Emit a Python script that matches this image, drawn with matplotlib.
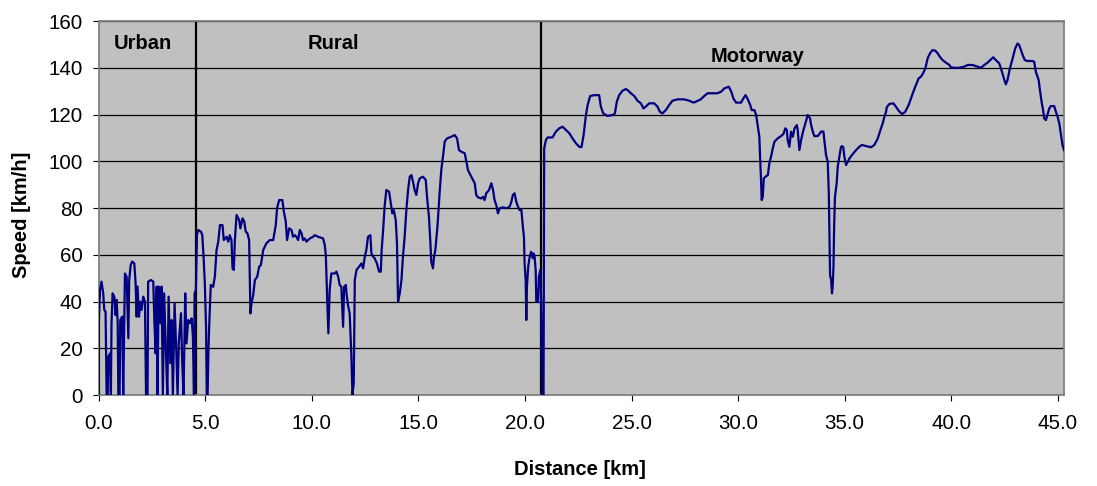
import numpy as np
import matplotlib
matplotlib.use("Agg")
import matplotlib.pyplot as plt

plt.rcParams['font.family'] = ['Liberation Sans', 'DejaVu Sans']

# speed trace, split by road type (distance in km, speed in km/h)
urban_km = [0.00, 0.00, 0.05, 0.12, 0.20, 0.25, 0.31, 0.36, 0.41, 0.44, 0.52, 0.56,
            0.59, 0.64, 0.72, 0.78, 0.83, 0.88, 0.91, 0.97, 1.00, 1.09, 1.14, 1.19,
            1.22, 1.30, 1.38, 1.42, 1.49, 1.56, 1.66, 1.72, 1.77, 1.81, 1.88, 1.94,
            2.00, 2.08, 2.16, 2.21, 2.28, 2.31, 2.44, 2.55, 2.60, 2.66, 2.71, 2.75,
            2.80, 2.88, 2.94, 3.00, 3.06, 3.14, 3.21, 3.27, 3.35, 3.41, 3.47, 3.55,
            3.63, 3.69, 3.75, 3.85, 3.91, 3.97, 4.05, 4.11, 4.19, 4.27, 4.35, 4.41,
            4.46, 4.49]
urban_speed = [0, 32, 45, 48.5, 43.5, 36.4, 35.7, 0, 0, 16.4, 17.8, 0,
               30.7, 43.5, 42.1, 34.2, 40.7, 30.7, 0, 0, 32.1, 33.5, 0, 32.1,
               52, 50.6, 24.3, 49.2, 55.6, 57.1, 56.3, 47.8, 33.5, 46.4, 33.5, 39.9,
               36.4, 42.1, 39.9, 0, 0, 48.5, 49.2, 48.5, 32.1, 17.8, 46.4, 0,
               46.4, 30.7, 46.4, 0, 43.5, 19.3, 0, 42.1, 13.6, 32.1, 0, 39.2,
               19.3, 0, 22.8, 35.0, 13.6, 0, 43.5, 22.1, 32.1, 30.7, 32.8, 25.0,
               0, 43.5]

rural_km = [4.55, 4.60, 4.66, 4.79, 4.85, 4.91, 4.97, 5.03, 5.06, 5.10, 5.14, 5.19,
            5.25, 5.36, 5.44, 5.52, 5.60, 5.68, 5.80, 5.86, 5.99, 6.07, 6.14, 6.22,
            6.27, 6.33, 6.38, 6.46, 6.58, 6.64, 6.74, 6.82, 6.89, 6.97, 7.05, 7.11,
            7.16, 7.24, 7.32, 7.43, 7.52, 7.60, 7.71, 7.86, 8.02, 8.18, 8.30, 8.36,
            8.46, 8.61, 8.68, 8.77, 8.83, 8.93, 9.04, 9.11, 9.19, 9.27, 9.35, 9.43,
            9.51, 9.58, 9.66, 9.74, 9.90, 10.05, 10.13, 10.29, 10.52, 10.60, 10.65, 10.71,
            10.77, 10.83, 10.91, 11.07, 11.15, 11.23, 11.30, 11.38, 11.46, 11.51, 11.59, 11.62,
            11.69, 11.77, 11.85, 11.90, 11.96, 12.01, 12.09, 12.21, 12.32, 12.40, 12.48, 12.55,
            12.63, 12.74, 12.79, 12.87, 12.94, 13.05, 13.15, 13.23, 13.27, 13.34, 13.41, 13.49,
            13.62, 13.70, 13.77, 13.84, 13.93, 13.99, 14.04, 14.12, 14.20, 14.27, 14.35, 14.43,
            14.51, 14.59, 14.67, 14.74, 14.82, 14.90, 14.98, 15.06, 15.21, 15.34, 15.40, 15.49,
            15.56, 15.60, 15.68, 15.73, 15.79, 15.89, 15.99, 16.07, 16.15, 16.23, 16.34, 16.54,
            16.70, 16.81, 16.90, 17.01, 17.17, 17.25, 17.32, 17.40, 17.56, 17.64, 17.71, 17.79,
            17.95, 18.03, 18.10, 18.18, 18.31, 18.42, 18.50, 18.57, 18.65, 18.73, 18.81, 18.96,
            19.12, 19.28, 19.36, 19.43, 19.51, 19.59, 19.67, 19.75, 19.83, 19.90, 19.95, 19.98,
            20.03, 20.06, 20.09, 20.15, 20.22, 20.29, 20.37, 20.40, 20.45, 20.50, 20.53, 20.61,
            20.65, 20.72, 20.76, 20.81]
rural_speed = [45, 68.5, 70.6, 69.9, 68.5, 59.3, 47.8, 28, 0, 0, 19.3, 33.5,
               47.1, 46.3, 50.6, 62.0, 65.6, 72.7, 72.7, 66.3, 67.7, 65.6, 68.4, 66.3,
               54.2, 53.5, 66.3, 77.0, 74.9, 71.3, 75.6, 74.2, 69.9, 69.2, 66.3, 34.9,
               39.2, 42.8, 49.2, 50.6, 54.9, 55.6, 62.0, 64.9, 66.3, 66.3, 72.7, 79.9,
               83.4, 83.4, 78.4, 74.2, 66.3, 71.3, 70.6, 67.7, 68.4, 67.7, 66.3, 70.6,
               69.2, 66.3, 67.0, 65.6, 67.0, 67.7, 68.4, 67.7, 67.0, 64.2, 59.9, 42.1,
               26.4, 44.9, 52.0, 52.0, 52.8, 50.6, 47.1, 46.3, 29.2, 46.3, 47.1, 43.5,
               38.5, 34.9, 16.4, 0, 5.0, 49.2, 53.5, 54.9, 56.3, 54.2, 59.2, 62.0,
               67.7, 68.4, 60.6, 59.2, 58.5, 56.3, 52.8, 52.8, 62.0, 70.6, 80.6, 87.7,
               87.0, 82.0, 77.7, 79.1, 74.9, 64.9, 39.9, 43.5, 49.2, 59.2, 67.7, 79.1,
               87.7, 93.4, 94.1, 91.3, 87.7, 85.6, 90.6, 92.7, 93.4, 92.0, 84.8, 76.3,
               64.9, 57.0, 54.2, 59.2, 62.0, 72.0, 86.3, 96.3, 102.0, 108.4, 109.8, 110.5,
               111.2, 109.8, 104.8, 104.1, 103.4, 99.8, 96.3, 94.8, 92.0, 90.6, 85.6, 84.6,
               84.1, 84.8, 83.4, 86.3, 87.7, 90.6, 87.7, 83.4, 81.3, 77.7, 79.9, 80.3,
               79.9, 80.6, 82.7, 85.6, 86.3, 82.7, 80.6, 79.1, 79.1, 72.0, 67.7, 56.3,
               49.2, 32.1, 46.3, 54.9, 59.2, 61.3, 58.5, 60.6, 59.2, 53.5, 39.9, 39.9,
               50.6, 53.5, 39.2, 0]

motorway_km = [20.87, 20.90, 20.98, 21.06, 21.29, 21.45, 21.61, 21.76, 21.92, 22.08, 22.23, 22.39,
               22.55, 22.65, 22.75, 22.86, 22.94, 23.06, 23.25, 23.48, 23.56, 23.67, 23.87, 24.11,
               24.22, 24.31, 24.42, 24.58, 24.73, 24.81, 24.97, 25.13, 25.28, 25.44, 25.56, 25.67,
               25.83, 26.06, 26.22, 26.33, 26.45, 26.61, 26.77, 26.92, 27.16, 27.47, 27.71, 27.91,
               28.02, 28.25, 28.41, 28.57, 29.03, 29.21, 29.36, 29.57, 29.68, 29.78, 29.91, 30.14,
               30.25, 30.35, 30.46, 30.57, 30.64, 30.77, 30.85, 30.93, 31.00, 31.04, 31.08, 31.11,
               31.16, 31.21, 31.29, 31.40, 31.47, 31.55, 31.63, 31.71, 31.86, 32.02, 32.13, 32.22,
               32.29, 32.33, 32.41, 32.49, 32.57, 32.65, 32.76, 32.80, 32.88, 32.96, 33.07, 33.16,
               33.27, 33.38, 33.43, 33.51, 33.58, 33.74, 33.82, 33.90, 34.01, 34.05, 34.13, 34.21,
               34.26, 34.32, 34.37, 34.41, 34.44, 34.48, 34.51, 34.55, 34.63, 34.68, 34.76, 34.83,
               34.88, 34.94, 34.99, 35.07, 35.15, 35.23, 35.35, 35.54, 35.69, 35.82, 36.01, 36.24,
               36.40, 36.56, 36.66, 36.79, 36.87, 36.95, 36.98, 37.10, 37.29, 37.41, 37.54, 37.70,
               37.85, 38.01, 38.12, 38.23, 38.35, 38.48, 38.59, 38.70, 38.79, 38.90, 39.01, 39.13,
               39.26, 39.37, 39.45, 39.60, 39.76, 39.92, 39.99, 40.15, 40.38, 40.62, 40.78, 41.01,
               41.24, 41.40, 41.56, 41.71, 41.87, 41.98, 42.10, 42.26, 42.39, 42.50, 42.57, 42.65,
               42.76, 42.89, 43.01, 43.12, 43.20, 43.28, 43.36, 43.46, 43.59, 43.82, 43.90, 43.98,
               44.11, 44.17, 44.26, 44.32, 44.37, 44.45, 44.50, 44.61, 44.68, 44.84, 44.92, 45.00,
               45.08, 45.15, 45.23, 45.30]
motorway_speed = [0, 105.5, 109.1, 110.2, 110.2, 112.7, 114.1, 114.8, 113.4, 112.0, 109.8, 107.7,
                  106.2, 106.0, 111.2, 119.8, 124.1, 127.9, 128.3, 128.3, 123.4, 120.5, 119.4, 119.8,
                  120.5, 125.5, 128.3, 130.2, 130.9, 130.5, 129.1, 127.9, 125.9, 124.8, 122.6, 123.4,
                  124.8, 124.8, 123.4, 121.2, 120.5, 121.9, 124.1, 125.9, 126.5, 126.5, 125.9, 125.1,
                  125.5, 126.5, 127.9, 129.1, 129.1, 129.8, 131.2, 131.9, 129.8, 126.9, 125.1, 125.1,
                  126.9, 128.3, 126.5, 124.1, 121.9, 121.9, 119.8, 114.8, 110.5, 100.5, 92.0, 83.4,
                  84.8, 92.7, 93.4, 94.1, 99.1, 102.0, 105.5, 108.4, 109.8, 110.8, 111.7, 114.1,
                  113.4, 109.1, 106.2, 112.7, 110.5, 114.1, 115.5, 113.4, 104.8, 109.1, 113.4, 116.2,
                  119.8, 118.4, 115.5, 112.7, 110.8, 110.8, 111.7, 112.7, 112.7, 109.1, 102.7, 99.8,
                  86.3, 51.3, 49.2, 43.5, 46.3, 55.0, 72.0, 84.8, 90.6, 97.7, 102.0, 106.0,
                  106.5, 106.0, 102.0, 98.4, 99.8, 101.2, 102.7, 104.8, 106.2, 107.0, 106.5, 106.0,
                  107.0, 109.8, 112.7, 116.2, 119.1, 121.2, 123.1, 124.5, 124.8, 123.4, 121.6, 120.2,
                  121.2, 124.1, 126.9, 129.8, 132.6, 135.5, 136.2, 137.9, 139.7, 144.0, 146.2, 147.6,
                  147.3, 146.2, 145.0, 143.3, 142.2, 141.2, 140.2, 140.0, 140.0, 140.5, 141.2, 141.2,
                  140.5, 140.0, 141.2, 142.2, 143.6, 144.5, 143.3, 141.9, 138.3, 134.8, 132.9, 134.8,
                  139.7, 144.0, 148.3, 150.4, 149.7, 147.6, 145.5, 143.3, 142.9, 142.9, 142.6, 138.3,
                  134.8, 130.5, 124.8, 121.9, 118.4, 117.6, 119.1, 122.6, 123.6, 123.6, 121.2, 119.1,
                  116.2, 111.9, 107.0, 104.8]

section_names = ['Urban', 'Rural', 'Motorway']
section_label_x = [2.04, 11.0, 30.9]
section_label_y = [150.6, 150.6, 145.0]
section_bounds = [4.55, 20.76]

x_ticks = np.arange(0, 46, 5)
y_ticks = np.arange(0, 161, 20)

distance = urban_km + rural_km + motorway_km
speed = urban_speed + rural_speed + motorway_speed

fig = plt.figure(figsize=(10.97, 4.86), dpi=100)
ax = fig.add_axes([0.0902, 0.1872, 0.8797, 0.7695])
ax.set_facecolor('#C0C0C0')

ax.set_xlim(0, 45.3)
ax.set_ylim(0, 160)
ax.set_xticks(x_ticks)
ax.set_xticklabels([f'{t:.1f}' for t in x_ticks])
ax.set_yticks(y_ticks)
ax.set_yticklabels([str(t) for t in y_ticks])
ax.tick_params(axis='both', direction='out', length=4.5, width=0.8,
               color='black', labelsize=14.8)
ax.tick_params(axis='x', pad=9)
ax.tick_params(axis='y', pad=7)

ax.set_axisbelow(True)
ax.yaxis.grid(True, color='black', linewidth=0.9)
for s in ax.spines.values():
    s.set_color('#808080')
    s.set_linewidth(1.3)

for b in section_bounds:
    ax.axvline(b, color='black', linewidth=1.6, zorder=2)

ax.plot(distance, speed, color='#000080', linewidth=1.6, zorder=3)

for name, lx, ly in zip(section_names, section_label_x, section_label_y):
    ax.text(lx, ly, name, ha='center', va='center', fontsize=14.5,
            fontweight='bold', zorder=4)

fig.text(580 / 1097, 1 - 469 / 486, 'Distance [km]', ha='center', va='center',
         fontsize=14.5, fontweight='bold')
fig.text(22 / 1097, 1 - 215 / 486, 'Speed [km/h]', ha='center', va='center',
         rotation=90, fontsize=14.5, fontweight='bold')

fig.savefig('out.png', dpi=100, facecolor='white')
